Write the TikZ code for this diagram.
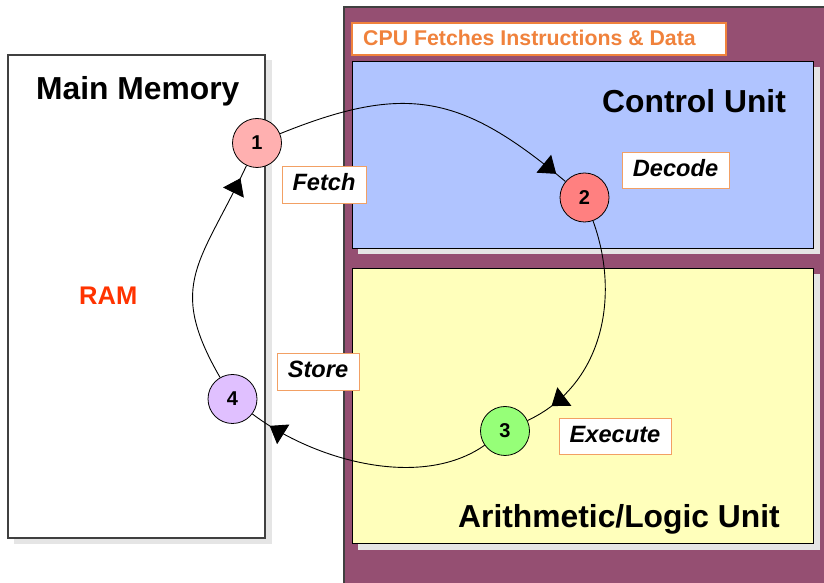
\documentclass[tikz,border=0pt]{standalone}
\usepackage{fontspec}
\setmainfont{Liberation Sans}
\usetikzlibrary{arrows.meta,decorations.markings}
\definecolor{cpupurple}{RGB}{149,79,114}
\definecolor{cublue}{RGB}{176,196,255}
\definecolor{aluyellow}{RGB}{255,255,187}
\definecolor{shadowgray}{RGB}{229,229,229}
\definecolor{titleorange}{RGB}{240,130,60}
\definecolor{labelorange}{RGB}{242,160,100}
\definecolor{ramred}{RGB}{255,51,0}
\definecolor{boxborder}{RGB}{64,64,64}
\definecolor{cone}{RGB}{255,176,176}
\definecolor{ctwo}{RGB}{255,128,128}
\definecolor{cthree}{RGB}{150,255,120}
\definecolor{cfour}{RGB}{224,192,255}
\begin{document}
\begin{tikzpicture}[x=1pt,y=1pt,
  box/.style={anchor=south west, inner sep=0pt, outer sep=0pt},
  shadowfill/.style={fill=shadowgray},
  bigtext/.style={anchor=base west, inner sep=0pt, font=\fontsize{31.8}{38}\selectfont\bfseries},
  lbl/.style={draw=labelorange, line width=0.8pt, fill=white, inner sep=0pt,
    text height=15pt, text depth=2pt, font=\fontsize{23.6}{28}\selectfont\bfseries\itshape},
  numc/.style={circle, draw=black, line width=0.8pt, minimum size=49pt, inner sep=0pt,
    font=\fontsize{20}{24}\selectfont\bfseries},
  flow/.style={line width=0.9pt,
    decoration={markings, mark=at position -#1 with {\arrow{Triangle[length=16pt,width=23pt]}}},
    postaction={decorate}},
]
\useasboundingbox (0,0) rectangle (824,583);
\clip (0,0) rectangle (824,583);

% Main memory
\fill[shadowfill] (14,39) rectangle (272,523);
\node[box, draw=boxborder, line width=1.2pt, fill=white, minimum width=257pt, minimum height=483pt] (mem) at (8,45) {};

% CPU
\node[box, draw=boxborder, line width=1.5pt, fill=cpupurple, minimum width=500pt, minimum height=586pt] (cpu) at (344,-10) {};
\node[box, draw=titleorange, line width=1.2pt, fill=white, minimum width=374pt, minimum height=32pt] (cputitle) at (352,528) {};

% Control unit
\fill[shadowfill] (358,329) rectangle (820,516);
\node[box, draw=black, line width=0.9pt, fill=cublue, minimum width=461pt, minimum height=187pt] (cu) at (352,335) {};

% ALU
\fill[shadowfill] (358,33) rectangle (820,309);
\node[box, draw=black, line width=0.9pt, fill=aluyellow, minimum width=461pt, minimum height=275pt] (alu) at (352,40) {};

% Titles
\node[bigtext] (memtitle) at (36,483) {Main Memory};
\node[bigtext] (cutitle) at (602,470) {Control Unit};
\node[bigtext] (alutitle) at (458,55) {Arithmetic/Logic Unit};
\node[anchor=base west, inner sep=0pt, text=ramred, font=\fontsize{25.5}{30}\selectfont\bfseries] (ram) at (79,278) {RAM};
\node[anchor=base west, inner sep=0pt, text=titleorange, font=\fontsize{21.3}{26}\selectfont\bfseries] (cputext) at (363,537) {CPU Fetches Instructions \& Data};

% Step labels
\node[lbl, minimum width=84pt, minimum height=37pt] (fetch) at (324,398.5) {Fetch};
\node[lbl, minimum width=107pt, minimum height=36pt] (decode) at (675.5,413) {Decode};
\node[lbl, minimum width=82pt, minimum height=37pt] (store) at (318,211.5) {Store};
\node[lbl, minimum width=112pt, minimum height=36pt] (execute) at (615,147) {Execute};

% Step circles
\node[numc, fill=cone] (c1) at (257,440) {1};
\node[numc, fill=ctwo] (c2) at (584.5,385.5) {2};
\node[numc, fill=cthree] (c3) at (505,152) {3};
\node[numc, fill=cfour] (c4) at (232.5,184) {4};

% Cycle
\draw[flow=12pt] (c1) to[out=22, in=140, looseness=1.2] (c2);
\draw[flow=28pt] (c2) to[out=-70, in=25, looseness=1] (c3);
\draw[flow=21pt] (c3) to[out=215, in=-37, looseness=0.85] (c4);
\draw[flow=14pt] (c4) to[out=120, in=245, looseness=1.3] (c1);
\end{tikzpicture}
\end{document}
